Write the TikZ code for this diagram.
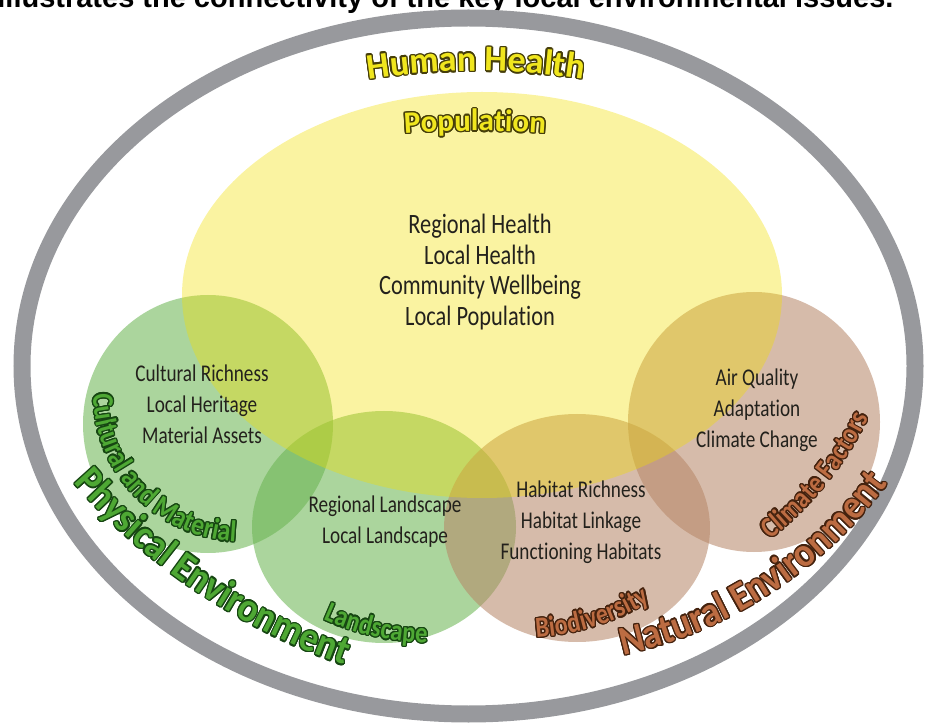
\documentclass[tikz,border=0pt]{standalone}
\usepackage{fontspec}
\defaultfontfeatures{Ligatures={TeX,NoCommon}}
\setmainfont{Carlito}
\newfontfamily\itemfont[FakeStretch=0.8]{Carlito}
\newfontfamily\zonefont[FakeStretch=0.85]{Carlito}
\newfontfamily\envfont[FakeStretch=0.9]{Carlito}
\newfontfamily\headfont{Carlito}
\newfontfamily\capfont{Liberation Sans}
\usepackage{contour}
\usetikzlibrary{decorations.text}

\definecolor{ringgray}{RGB}{152,153,157}
\definecolor{healthfill}{RGB}{241,222,0}
\definecolor{greenfill}{RGB}{105,180,80}
\definecolor{brownfill}{RGB}{182,134,103}
\definecolor{itemtxt}{RGB}{35,33,28}
\definecolor{healthtxt}{RGB}{240,230,30}
\definecolor{healthdark}{RGB}{70,62,10}
\definecolor{greentxt}{RGB}{78,168,52}
\definecolor{greendark}{RGB}{22,70,18}
\definecolor{browntxt}{RGB}{188,108,66}
\definecolor{browndark}{RGB}{68,34,14}

\newcommand{\healthchar}[1]{\contourlength{1.4pt}\contour{healthdark}{#1}}
\newcommand{\greenchar}[1]{\contourlength{1.3pt}\contour{greendark}{#1}}
\newcommand{\brownchar}[1]{\contourlength{1.3pt}\contour{browndark}{#1}}

\begin{document}
\begin{tikzpicture}[x=1pt,y=1pt,
    zone/.style={fill opacity=0.56},
    items/.style={align=center, text=itemtxt},
    bigitems/.style={items, font=\itemfont\fontsize{28}{30.5}\selectfont},
    smallitems/.style={items, font=\itemfont\fontsize{24}{31}\selectfont}]
    \useasboundingbox (0,0) rectangle (935,724);
    \clip (0,0) rectangle (935,724);

    % caption line cut by the top edge
    \node[anchor=base east, font=\capfont\bfseries\fontsize{29}{29}\selectfont] (caption) at (897,716)
        {illustrates the connectivity of the key local environmental issues.};

    % outer ring
    \draw[ringgray, line width=17pt] (468.5,358) ellipse [x radius=446.5, y radius=348];

    % the five areas
    \fill[greenfill, zone] (208,300) ellipse [x radius=125, y radius=129];
    \fill[greenfill, zone] (384,197) ellipse [x radius=132, y radius=116];
    \fill[brownfill, zone] (577,196) ellipse [x radius=133, y radius=114];
    \fill[brownfill, zone] (754,302) ellipse [x radius=126, y radius=130];
    \fill[healthfill, fill opacity=0.37] (482,429) ellipse [x radius=300, y radius=203];

    % issues in each area
    \node[bigitems] (health) at (480,452) {Regional Health\\Local Health\\Community Wellbeing\\Local Population};
    \node[smallitems] (cultural) at (202,320) {Cultural Richness\\Local Heritage\\Material Assets};
    \node[smallitems] (landscape) at (385,202) {Regional Landscape\\Local Landscape};
    \node[smallitems] (habitat) at (581,202) {Habitat Richness\\Habitat Linkage\\Functioning Habitats};
    \node[smallitems] (climate) at (757,314) {Air Quality\\Adaptation\\Climate Change};

    % curved headings
    \path[decorate, decoration={text effects along path, text={Human Health}, text align=center,
        text effects/.cd, text along path, character command=\healthchar,
        characters={text=healthtxt, font=\headfont\bfseries\fontsize{36}{36}\selectfont}}]
        (476,-47) ++(100:700) arc [start angle=100, end angle=80, radius=700];
    \path[decorate, decoration={text effects along path, text={Population}, text align=center,
        text effects/.cd, text along path, character command=\healthchar,
        characters={text=healthtxt, font=\headfont\bfseries\fontsize{31}{31}\selectfont}}]
        (475,-407) ++(97:1000) arc [start angle=97, end angle=83, radius=1000];

    \path[decorate, decoration={text effects along path, text={Physical Environment}, text align=center,
        text effects/.cd, text along path, character command=\greenchar,
        characters={text=greentxt, font=\envfont\bfseries\fontsize{41}{41}\selectfont}}]
        (551.5,658) ++(206:634) arc [start angle=206, end angle=266, radius=634];
    \path[decorate, decoration={text effects along path, text={Natural Environment}, text align=center,
        text effects/.cd, text along path, character command=\brownchar,
        characters={text=browntxt, font=\envfont\bfseries\fontsize{41}{41}\selectfont}}]
        (526,508) ++(270:450) arc [start angle=270, end angle=336, radius=450];

    \path[decorate, decoration={text effects along path, text={Cultural and Material}, text align=center,
        text effects/.cd, text along path, character command=\greenchar,
        characters={text=greentxt, font=\zonefont\bfseries\fontsize{30}{30}\selectfont}}]
        (243,332) ++(170:150) arc [start angle=170, end angle=278, radius=150];
    \path[decorate, decoration={text effects along path, text={Landscape}, text align=center,
        text effects/.cd, text along path, character command=\greenchar,
        characters={text=greentxt, font=\zonefont\bfseries\fontsize{29}{29}\selectfont}}]
        (432,344) ++(237.3:263) arc [start angle=237.3, end angle=277.3, radius=263];
    \path[decorate, decoration={text effects along path, text={Biodiversity}, text align=center,
        text effects/.cd, text along path, character command=\brownchar,
        characters={text=browntxt, font=\zonefont\bfseries\fontsize{29}{29}\selectfont}}]
        (520,338) ++(262.5:252) arc [start angle=262.5, end angle=312.5, radius=252];
    \path[decorate, decoration={text effects along path, text={Climate Factors}, text align=center,
        text effects/.cd, text along path, character command=\brownchar,
        characters={text=browntxt, font=\zonefont\bfseries\fontsize{29}{29}\selectfont}}]
        (556,459) ++(290:348) arc [start angle=290, end angle=352, radius=348];
\end{tikzpicture}
\end{document}
